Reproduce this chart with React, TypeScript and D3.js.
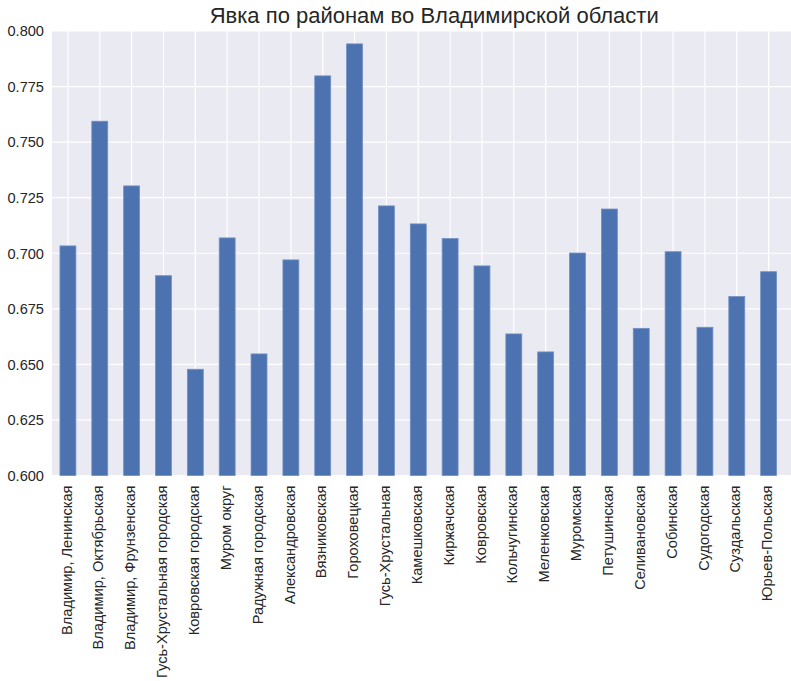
import React from "react";
import * as d3 from "d3";

const categories: string[] = [
  "Владимир, Ленинская",
  "Владимир, Октябрьская",
  "Владимир, Фрунзенская",
  "Гусь-Хрустальная городская",
  "Ковровская городская",
  "Муром округ",
  "Радужная городская",
  "Александровская",
  "Вязниковская",
  "Гороховецкая",
  "Гусь-Хрустальная",
  "Камешковская",
  "Киржачская",
  "Ковровская",
  "Кольчугинская",
  "Меленковская",
  "Муромская",
  "Петушинская",
  "Селивановская",
  "Собинская",
  "Судогодская",
  "Суздальская",
  "Юрьев-Польская",
  "Владимирская",
];

const turnout: number[] = [
  0.7033, 0.7594, 0.7303, 0.6899, 0.6478, 0.7069, 0.6547, 0.697, 0.7798,
  0.7942, 0.7213, 0.7132, 0.7066, 0.6943, 0.6637, 0.6556, 0.7001, 0.7199,
  0.6662, 0.7007, 0.6667, 0.6805, 0.6917, 0.69,
];

const yTicks: number[] = [0.6, 0.625, 0.65, 0.675, 0.7, 0.725, 0.75, 0.775, 0.8];

const title = "Явка по районам во Владимирской области";

const W = 791;
const H = 681;
const plotLeft = 52;
const plotRight = 816.4;
const plotTop = 31;
const plotBottom = 475.5;

export default function App() {
  const x = d3
    .scaleBand<string>()
    .domain(categories)
    .range([plotLeft, plotRight])
    .paddingInner(0.5)
    .paddingOuter(0.25);
  const y = d3.scaleLinear().domain([0.6, 0.8]).range([plotBottom, plotTop]);
  const font = "Arial, 'Liberation Sans', sans-serif";
  const bw = x.bandwidth();

  return (
    <svg
      width={W}
      height={H}
      style={{ position: "absolute", left: 0, top: 0, background: "#fff" }}
      fontFamily={font}
    >
      <rect
        x={plotLeft}
        y={plotTop}
        width={plotRight - plotLeft}
        height={plotBottom - plotTop}
        fill="#EAEAF2"
      />
      {yTicks.map((t) => (
        <line
          key={"gy" + t}
          x1={plotLeft}
          x2={plotRight}
          y1={y(t)}
          y2={y(t)}
          stroke="#fff"
          strokeWidth={1.2}
        />
      ))}
      {categories.map((c) => (
        <line
          key={"gx" + c}
          x1={(x(c) as number) + bw / 2}
          x2={(x(c) as number) + bw / 2}
          y1={plotTop}
          y2={plotBottom}
          stroke="#fff"
          strokeWidth={1.2}
        />
      ))}
      {categories.map((c, i) => (
        <rect
          key={"b" + c}
          x={x(c) as number}
          y={y(turnout[i])}
          width={bw}
          height={plotBottom - y(turnout[i])}
          fill="#4C72B0"
          stroke="#7190C4"
          strokeWidth={0.8}
        />
      ))}
      {yTicks.map((t) => (
        <text
          key={"ty" + t}
          x={44}
          y={y(t)}
          dy="0.36em"
          textAnchor="end"
          fontSize={14.6}
          fill="#262626"
        >
          {d3.format(".3f")(t)}
        </text>
      ))}
      {categories.map((c) => (
        <text
          key={"tx" + c}
          transform={`translate(${(x(c) as number) + bw / 2 - 1.5},${plotBottom + 10}) rotate(-90)`}
          dy="0.35em"
          textAnchor="end"
          fontSize={14.6}
          fill="#262626"
        >
          {c}
        </text>
      ))}
      <text
        x={(plotLeft + plotRight) / 2}
        y={22.7}
        textAnchor="middle"
        fontSize={22}
        fill="#262626"
      >
        {title}
      </text>
    </svg>
  );
}
